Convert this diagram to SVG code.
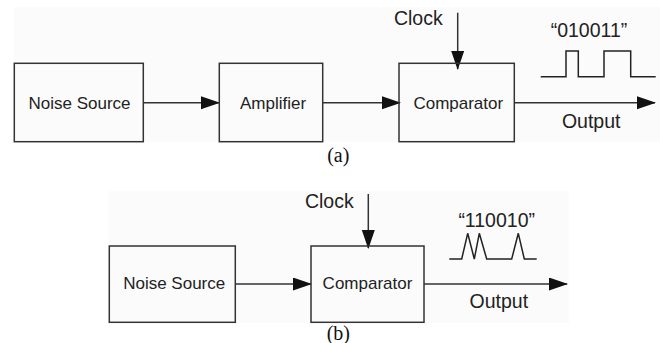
<svg xmlns="http://www.w3.org/2000/svg" width="660" height="343" viewBox="0 0 660 343">
<defs>
<marker id="ah" markerWidth="20" markerHeight="14" refX="18" refY="6.5" orient="auto" markerUnits="userSpaceOnUse">
<path d="M0,0 L19,6.5 L0,13 z" fill="#111"/>
</marker>
<style>
.bg{fill:#fbfbfb;stroke:none}
.box{fill:none;stroke:#333;stroke-width:1.5}
.ln{fill:none;stroke:#333;stroke-width:1.5}
.w{fill:none;stroke:#222;stroke-width:1.5;stroke-linejoin:miter}
.t{font-family:"Liberation Sans",Arial,sans-serif;font-size:17px;fill:#222}
.L{font-size:19.5px}
.c{text-anchor:middle}
.cap{font-family:"Liberation Serif","Times New Roman",serif;font-size:20px;fill:#111;text-anchor:middle}
</style>
</defs>
<rect class="bg" x="14" y="7" width="646" height="135"/>
<rect class="bg" x="109" y="191" width="460" height="132"/>

<g id="connectors">
<line class="ln" x1="143.3" y1="102.7" x2="219" y2="102.7" marker-end="url(#ah)"/>
<line class="ln" x1="322.7" y1="102.7" x2="400" y2="102.7" marker-end="url(#ah)"/>
<line class="ln" x1="457.7" y1="12.7" x2="457.7" y2="69" marker-end="url(#ah)"/>
<line class="ln" x1="514.3" y1="102.7" x2="655" y2="102.7" marker-end="url(#ah)"/>
<line class="ln" x1="235.3" y1="284" x2="311" y2="284" marker-end="url(#ah)"/>
<line class="ln" x1="368.3" y1="194" x2="368.3" y2="248" marker-end="url(#ah)"/>
<line class="ln" x1="424" y1="284" x2="567" y2="284" marker-end="url(#ah)"/>
</g>

<g id="noise-a">
<rect class="box" x="14.3" y="63.3" width="129" height="78.4"/>
<text class="t c" x="79.5" y="109">Noise Source</text>
</g>
<g id="amplifier-a">
<rect class="box" x="219.3" y="63.3" width="103.4" height="78.4"/>
<text class="t c" x="273" y="109">Amplifier</text>
</g>
<g id="comparator-a">
<rect class="box" x="399" y="63.3" width="115.3" height="78.4"/>
<text class="t c" x="458.3" y="109">Comparator</text>
</g>
<g id="clock-a">
<text class="t L c" x="418.3" y="25">Clock</text>
</g>
<g id="wave-a">
<text class="t L c" x="589" y="36.7">“010011”</text>
<polyline class="w" points="540.7,76.7 566,76.7 566,51 578.3,51 578.3,76.7 604,76.7 604,51 630.7,51 630.7,76.7 655.7,76.7"/>
</g>
<g id="output-a">
<text class="t L c" x="591.2" y="128">Output</text>
</g>
<text class="cap" x="338.3" y="161.7">(a)</text>

<g id="noise-b">
<rect class="box" x="109.3" y="246" width="126" height="76.3"/>
<text class="t c" x="174.2" y="289.3">Noise Source</text>
</g>
<g id="comparator-b">
<rect class="box" x="311" y="246" width="113" height="76.3"/>
<text class="t c" x="367.5" y="289.3">Comparator</text>
</g>
<g id="clock-b">
<text class="t L c" x="329.3" y="208.3">Clock</text>
</g>
<g id="wave-b">
<text class="t L c" x="496.7" y="226.7">“110010”</text>
<polyline class="w" points="449.3,259 461.7,259 467.7,233.3 474.3,259 479.3,233.3 486.7,259 511.7,259 518.3,233.3 524.3,259 536.7,259"/>
</g>
<g id="output-b">
<text class="t L c" x="498.8" y="308.3">Output</text>
</g>
<text class="cap" x="338.3" y="340">(b)</text>
</svg>
